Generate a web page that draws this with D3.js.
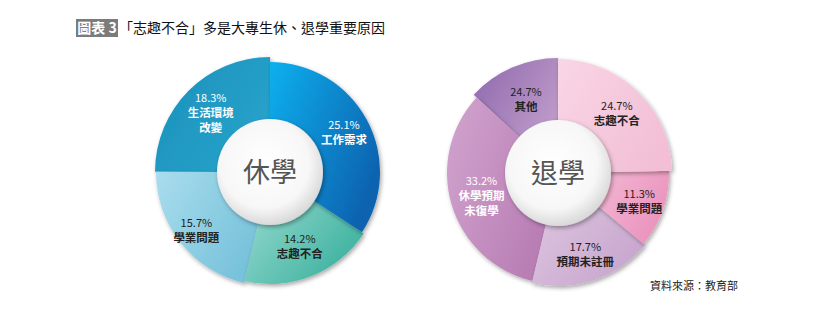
<!DOCTYPE html>
<html>
<head>
<meta charset="utf-8">
<script src="https://cdn.jsdelivr.net/npm/d3@7"></script>
<style>
  body { margin: 0; background: #fff; }
  svg { display: block; font-family: "Noto Sans CJK TC", "Noto Sans", sans-serif; }
</style>
</head>
<body>
<svg id="chart" width="830" height="320"></svg>
<script>
// 休學 (left donut)
const leftCats = ["工作需求", "志趣不合", "學業問題", "生活環境\n改變"];
const leftValues = [25.1, 14.2, 15.7, 18.3];
// 退學 (right donut) - slice size for 其他 is the remainder, its printed label reads 24.7%
const rightCats = ["志趣不合", "學業問題", "預期未註冊", "休學預期\n未復學", "其他"];
const rightValues = [24.7, 11.3, 17.7, 33.2, 13.1];
const rightLabels = ["24.7%", "11.3%", "17.7%", "33.2%", "24.7%"];

const leftColors = [["#10b0ee", "#0863b0"], ["#97dad0", "#3eb29f"], ["#a9dded", "#78c2db"], ["#1a91bb", "#27a2ca"]];
const leftText = ["#fff", "#222", "#222", "#fff"];
const leftRadius = [110, 112, 114, 115];
const leftLabelR = [84, 80, 94, 84];
const rightColors = [["#f9d6e5", "#f2bfd6"], ["#f3b9d3", "#ea92bd"], ["#ddc6e0", "#c8a6ce"], ["#d2a4ce", "#b97fb5"], ["#8d67ac", "#bb98c8"]];
const rightText = ["#222", "#222", "#222", "#fff", "#222"];
const rightRadius = [114, 111, 113, 111, 115];
const rightLabelR = [84, 86, 86, 80, 80];

const svg = d3.select("#chart");
const defs = svg.append("defs");

const shadow = defs.append("filter").attr("id", "shadow")
  .attr("x", "-20%").attr("y", "-20%").attr("width", "140%").attr("height", "140%");
shadow.append("feDropShadow").attr("dx", 1.5).attr("dy", 2).attr("stdDeviation", 2)
  .attr("flood-color", "#000").attr("flood-opacity", 0.35);

const hole = defs.append("radialGradient").attr("id", "hole").attr("cx", "45%").attr("cy", "42%").attr("r", "60%");
hole.append("stop").attr("offset", "0%").attr("stop-color", "#ffffff");
hole.append("stop").attr("offset", "70%").attr("stop-color", "#f7f7f7");
hole.append("stop").attr("offset", "100%").attr("stop-color", "#d6d6d6");

// title
const title = svg.append("g").attr("transform", "translate(76,19)");
title.append("rect").attr("width", 42).attr("height", 18).attr("fill", "#7b7b7b");
title.append("text").attr("x", 21).attr("y", 14).attr("text-anchor", "middle")
  .attr("fill", "#fff").style("font-size", "14px").style("font-weight", "bold").text("圖表 3");
title.append("text").attr("x", 43).attr("y", 14).attr("fill", "#111")
  .style("font-size", "14px").text("「志趣不合」多是大專生休、退學重要原因");

svg.append("text").attr("x", 738).attr("y", 290).attr("text-anchor", "end")
  .attr("fill", "#222").style("font-size", "11px").text("資料來源：教育部");

function donut(id, cx, cy, cats, values, labels, colors, textCol, radii, labelR, center) {
  const g = svg.append("g").attr("transform", `translate(${cx},${cy})`);
  const pie = d3.pie().sort(null).value(d => d);
  const arcs = pie(values);
  const inner = 50;

  colors.forEach((c, i) => {
    const lg = defs.append("linearGradient").attr("id", `${id}-g${i}`)
      .attr("x1", "0%").attr("y1", "0%").attr("x2", "100%").attr("y2", "60%");
    lg.append("stop").attr("offset", "0%").attr("stop-color", c[0]);
    lg.append("stop").attr("offset", "100%").attr("stop-color", c[1]);
  });

  // draw in reverse so the first slice sits on top of its neighbours' shadows
  const order = d3.range(arcs.length).reverse();
  g.selectAll("path.slice").data(order.map(i => arcs[i])).join("path")
    .attr("class", "slice")
    .attr("d", d => d3.arc().innerRadius(inner).outerRadius(radii[d.index])(d))
    .attr("fill", d => `url(#${id}-g${d.index})`)
    .attr("filter", "url(#shadow)");

  g.append("circle").attr("r", 53).attr("fill", "url(#hole)").attr("filter", "url(#shadow)");
  g.append("text").attr("y", 10).attr("text-anchor", "middle").attr("fill", "#555")
    .style("font-size", "27px").text(center);

  arcs.forEach((d, i) => {
    const [x, y] = d3.arc().innerRadius(labelR[i]).outerRadius(labelR[i]).centroid(d);
    const lines = [labels[i]].concat(cats[i].split("\n"));
    const top = y - (lines.length - 1) * 7.5 + 4;
    lines.forEach((s, k) => {
      g.append("text").attr("text-anchor", "middle").attr("fill", textCol[i])
        .attr("x", x).attr("y", top + k * 15)
        .style("font-size", k === 0 ? "11px" : "11.5px")
        .style("font-weight", k === 0 ? "normal" : "bold")
        .text(s);
    });
  });
}

donut("L", 270, 172, leftCats, leftValues, leftValues.map(v => v + "%"), leftColors, leftText, leftRadius, leftLabelR, "休學");
donut("R", 558, 173, rightCats, rightValues, rightLabels, rightColors, rightText, rightRadius, rightLabelR, "退學");
</script>
</body>
</html>
